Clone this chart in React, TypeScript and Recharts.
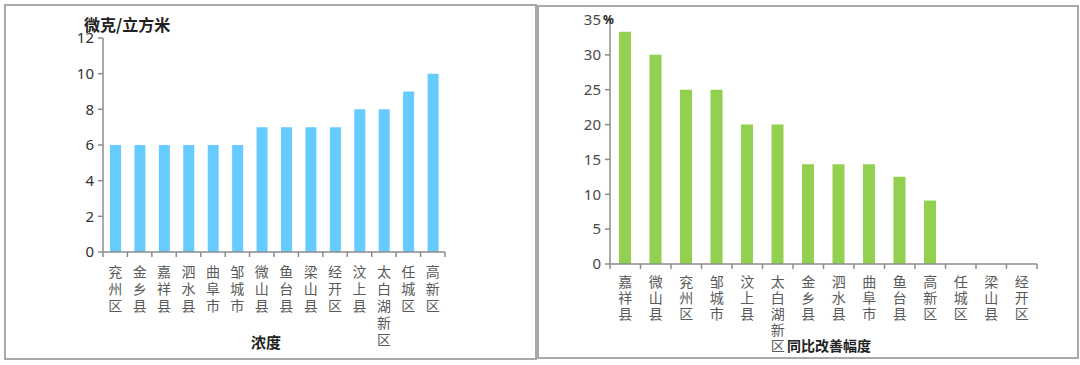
import React from 'react';
import { BarChart, Bar, XAxis, YAxis } from 'recharts';

const concCategories = ['兖州区', '金乡县', '嘉祥县', '泗水县', '曲阜市', '邹城市', '微山县', '鱼台县', '梁山县', '经开区', '汶上县', '太白湖新区', '任城区', '高新区'];
const concValues = [6, 6, 6, 6, 6, 6, 7, 7, 7, 7, 8, 8, 9, 10];
const concTicks = [0, 2, 4, 6, 8, 10, 12];

const impCategories = ['嘉祥县', '微山县', '兖州区', '邹城市', '汶上县', '太白湖新区', '金乡县', '泗水县', '曲阜市', '鱼台县', '高新区', '任城区', '梁山县', '经开区'];
const impValues = [33.3, 30, 25, 25, 20, 20, 14.3, 14.3, 14.3, 12.5, 9.1, 0, 0, 0];
const impTicks = [0, 5, 10, 15, 20, 25, 30, 35];

const concData = concCategories.map((name, i) => ({ name, value: concValues[i] }));
const impData = impCategories.map((name, i) => ({ name, value: impValues[i] }));

const AXIS = '#8c8c8c';
const CJK = '"Noto Sans CJK SC", sans-serif';
const NUM = '"Noto Sans", "Liberation Sans", sans-serif';

const VerticalTick = (props: any) => {
  const { x, y, payload, index, visibleTicksCount, half, top, spacing, color } = props;
  const off = payload && payload.offset ? payload.offset : half;
  const last = index === visibleTicksCount - 1;
  return (
    <g>
      <line x1={x - off} y1={y} x2={x - off} y2={y + 5} stroke={AXIS} strokeWidth={1.5} />
      {last && <line x1={x + off} y1={y} x2={x + off} y2={y + 5} stroke={AXIS} strokeWidth={1.5} />}
      <text x={x} y={y + top} textAnchor="start" fill={color} fontSize={14} fontFamily={CJK}
        style={{ writingMode: 'vertical-rl', letterSpacing: spacing }}>
        {String(payload.value)}
      </text>
    </g>
  );
};

const abs = (l: number, t: number, extra: React.CSSProperties = {}): React.CSSProperties => ({
  position: 'absolute', left: l, top: t, ...extra,
});

export default function App() {
  return (
    <div style={{ position: 'absolute', left: 0, top: 0, width: 1080, height: 365, background: '#fff', overflow: 'hidden' }}>
      <div style={abs(4, 4, { width: 533, height: 356, border: '2px solid #a8a8a8', boxSizing: 'border-box' })} />
      <div style={abs(537, 5, { width: 542, height: 354, border: '2px solid #a8a8a8', boxSizing: 'border-box' })} />

      <div style={abs(0, 0)}>
        <BarChart width={540} height={365} data={concData} margin={{ top: 38, right: 95, left: 63, bottom: 13 }} barCategoryGap={0}>
          <XAxis dataKey="name" height={100} interval={0} tickLine={false} tickSize={0} tickMargin={0}
            axisLine={{ stroke: AXIS, strokeWidth: 1.5 }}
            tick={(p: any) => <VerticalTick {...p} half={12.2} top={13} spacing={3} color="#5a5a5a" />} />
          <YAxis width={40} domain={[0, 12]} ticks={concTicks} interval={0} tickSize={5} tickMargin={4}
            axisLine={{ stroke: AXIS, strokeWidth: 1.5 }} tickLine={{ stroke: AXIS, strokeWidth: 1.5 }}
            tick={{ fill: '#333', fontSize: 15, fontFamily: NUM }} />
          <Bar dataKey="value" fill="#66CCFF" barSize={11} isAnimationActive={false} />
        </BarChart>
      </div>

      <div style={abs(540, 0)}>
        <BarChart width={540} height={365} data={impData} margin={{ top: 20, right: 43, left: 30, bottom: 1 }} barCategoryGap={0}>
          <XAxis dataKey="name" height={100} interval={0} tickLine={false} tickSize={0} tickMargin={0}
            axisLine={{ stroke: AXIS, strokeWidth: 1.5 }}
            tick={(p: any) => <VerticalTick {...p} half={15.25} top={11} spacing={2} color="#5a5a5a" />} />
          <YAxis width={40} domain={[0, 35]} ticks={impTicks} interval={0} tickSize={5} tickMargin={4}
            axisLine={{ stroke: AXIS, strokeWidth: 1.5 }} tickLine={{ stroke: AXIS, strokeWidth: 1.5 }}
            tick={{ fill: '#4a4a4a', fontSize: 15, fontFamily: NUM }} />
          <Bar dataKey="value" fill="#92D050" barSize={12} isAnimationActive={false} />
        </BarChart>
      </div>

      <div style={abs(84, 16, { fontFamily: CJK, fontWeight: 700, fontSize: 16, color: '#222', lineHeight: '16px', whiteSpace: 'nowrap' })}>微克/立方米</div>
      <div style={abs(251, 332, { fontFamily: CJK, fontWeight: 700, fontSize: 15, color: '#222', lineHeight: '20px', whiteSpace: 'nowrap' })}>浓度</div>
      <div style={abs(603, 13, { fontFamily: NUM, fontWeight: 700, fontSize: 12, color: '#222', lineHeight: '14px' })}>%</div>
      <div style={abs(787, 336, { fontFamily: CJK, fontWeight: 700, fontSize: 14, color: '#222', lineHeight: '18px', whiteSpace: 'nowrap' })}>同比改善幅度</div>
    </div>
  );
}
